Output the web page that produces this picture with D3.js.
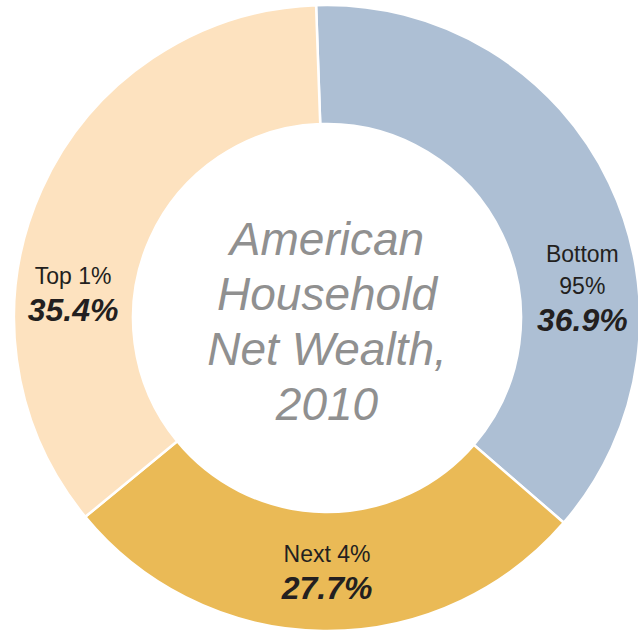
<!DOCTYPE html>
<html>
<head>
<meta charset="utf-8">
<script src="https://cdn.jsdelivr.net/npm/d3@7"></script>
<style>
  html, body { margin: 0; padding: 0; background: #fff; }
  svg { display: block; font-family: 'Liberation Sans', Arial, Helvetica, sans-serif; }
</style>
</head>
<body>
<div id="graf"></div>
<script>
// data
const groups = [['Bottom', '95%'], ['Next 4%'], ['Top 1%']]
const shares = [36.9, 27.7, 35.4]
const colores = ['#adbfd4', '#eaba56', '#fde2bf']
const titulo = ['American', 'Household', 'Net Wealth,', '2010']

const ancho = 638
const alto = 633
const centro = { x: 327, y: 318 }
const rOut = 313
const rIn = 194

const svg = d3.select('#graf')
  .append('svg')
  .attr('width', ancho)
  .attr('height', alto)

const g = svg.append('g')
  .attr('transform', `translate(${centro.x}, ${centro.y})`)

const data = groups.map((d, i) => ({ name: d, value: shares[i], color: colores[i] }))

const start = -2 * Math.PI / 180
const pie = d3.pie()
  .sort(null)
  .value(d => d.value)
  .startAngle(start)
  .endAngle(start + 2 * Math.PI)

const arc = d3.arc()
  .innerRadius(rIn)
  .outerRadius(rOut)

const arcs = pie(data)

g.selectAll('path.slice')
  .data(arcs)
  .enter()
  .append('path')
  .attr('class', 'slice')
  .attr('d', arc)
  .attr('fill', d => d.data.color)
  .attr('stroke', '#fff')
  .attr('stroke-width', 2.5)

// label anchors (angle in degrees clockwise from top, radius)
const labelAnchor = [[83.5, 257], [180, 254], [275.4, 255]]

arcs.forEach((a, i) => {
  const [ang, rad] = labelAnchor[i]
  const [px, py] = d3.pointRadial(ang * Math.PI / 180, rad)
  const nLines = a.data.name.length
  // block: name lines 32px apart, value 37px below last line
  const blockTop = -16
  const blockBottom = (nLines - 1) * 32 + 37
  const y0 = py - (blockTop + blockBottom) / 2

  const lbl = g.append('g').attr('class', 'label')
  a.data.name.forEach((t, j) => {
    lbl.append('text')
      .attr('x', px)
      .attr('y', y0 + j * 32)
      .attr('text-anchor', 'middle')
      .attr('font-size', 23)
      .attr('fill', '#231f20')
      .text(t)
  })
  lbl.append('text')
    .attr('x', px)
    .attr('y', y0 + (nLines - 1) * 32 + 37)
    .attr('text-anchor', 'middle')
    .attr('font-size', 32)
    .attr('font-weight', 'bold')
    .attr('font-style', 'italic')
    .attr('fill', '#231f20')
    .text(a.data.value.toFixed(1) + '%')
})

// center title
g.selectAll('text.titulo')
  .data(titulo)
  .enter()
  .append('text')
  .attr('class', 'titulo')
  .attr('x', 0)
  .attr('y', (d, i) => -63 + i * 55)
  .attr('text-anchor', 'middle')
  .attr('font-size', 46)
  .attr('font-style', 'italic')
  .attr('fill', '#909090')
  .text(d => d)
</script>
</body>
</html>
